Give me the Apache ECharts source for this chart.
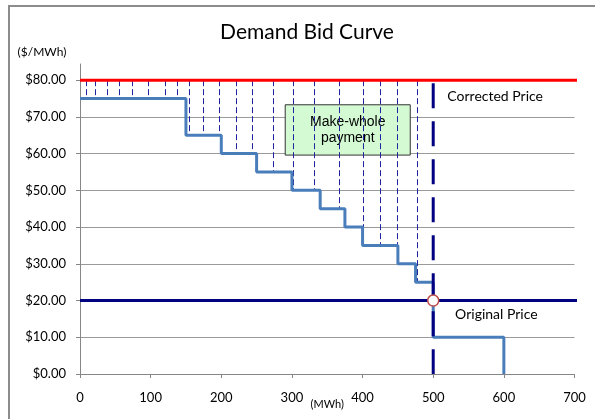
<!DOCTYPE html>
<html>
<head>
<meta charset="utf-8">
<script src="https://cdn.jsdelivr.net/npm/echarts@6/dist/echarts.min.js"></script>
<style>
  html, body { margin: 0; padding: 0; background: #fff; }
  #chart { width: 595px; height: 419px; }
</style>
</head>
<body>
<div id="chart"></div>
<script>
// Demand bid curve: price steps between quantity breakpoints (MWh)
const stepQty   = [0, 150, 200, 250, 300, 340, 375, 400, 450, 475, 500, 600];
const stepPrice = [75, 65, 60, 55, 50, 45, 40, 35, 30, 25, 10];
// Individual bid quantities that receive a make-whole payment
const bidQty = [9, 21, 38, 56, 74, 97, 121, 138, 155, 174, 197, 221, 244, 273,
                302, 332, 367, 401, 425, 449, 478];
const correctedPrice = 80;
const originalPrice = 20;
const clearingQty = 500;
const priceLineEnd = 708;
const yTicks = [0, 10, 20, 30, 40, 50, 60, 70, 80];

const FONT = 'Lato, "Liberation Sans", sans-serif';

// Step curve points
const curvePoints = [];
for (let i = 0; i < stepPrice.length; i++) {
  curvePoints.push([stepQty[i], stepPrice[i]]);
  curvePoints.push([stepQty[i + 1], stepPrice[i]]);
}
curvePoints.push([stepQty[stepQty.length - 1], 0]);

function priceAt(q) {
  for (let i = 0; i < stepPrice.length; i++) {
    if (q >= stepQty[i] && q < stepQty[i + 1]) return stepPrice[i];
  }
  return 0;
}

const chart = echarts.init(document.getElementById('chart'), null, { renderer: 'canvas' });

chart.setOption({
  animation: false,
  backgroundColor: '#fff',
  textStyle: { fontFamily: FONT },
  grid: { left: 80, right: 20.5, top: 64, bottom: 45, containLabel: false, outerBoundsMode: 'none' },
  graphic: [
    { type: 'rect', shape: { x: 9, y: 6, width: 700, height: 600 },
      style: { fill: 'none', stroke: '#8c8c8c', lineWidth: 2 }, silent: true },
    { type: 'text', x: 307, y: 32,
      style: { text: 'Demand Bid Curve', fontSize: 21, fontFamily: FONT, fill: '#000',
               align: 'center', verticalAlign: 'middle' } },
    { type: 'text', x: 42, y: 52,
      style: { text: '($/MWh)', fontSize: 12, fontFamily: FONT, fill: '#000',
               align: 'center', verticalAlign: 'middle' } }
  ],
  xAxis: {
    type: 'value', min: 0, max: 700, interval: 100,
    name: '(MWh)', nameLocation: 'middle', nameGap: 25, nameMoveOverlap: false,
    nameTextStyle: { fontSize: 11, color: '#000', fontFamily: FONT },
    axisLine: { show: true, lineStyle: { color: '#868686', width: 1 } },
    axisTick: { show: true, length: 4, lineStyle: { color: '#868686' } },
    axisLabel: { fontSize: 13, color: '#000', margin: 17, fontFamily: FONT },
    splitLine: { show: false }
  },
  yAxis: {
    type: 'value', min: 0, max: 84.4, interval: 10,
    axisLine: { show: true, lineStyle: { color: '#868686', width: 1 } },
    axisTick: { show: true, length: 4, customValues: yTicks, lineStyle: { color: '#868686' } },
    axisLabel: { customValues: yTicks, fontSize: 13, color: '#000', margin: 14, fontFamily: FONT,
                 formatter: v => '$' + v.toFixed(2) },
    splitLine: { show: true, showMaxLine: false, lineStyle: { color: '#9a9a9a', width: 1 } }
  },
  series: [
    {
      // make-whole gap for each bid: corrected price down to bid price
      type: 'lines', coordinateSystem: 'cartesian2d', z: 2, silent: true,
      data: bidQty.map(q => ({ coords: [[q, correctedPrice], [q, priceAt(q)]] })),
      lineStyle: { color: '#1f239c', width: 1, type: [6, 3], opacity: 1 }
    },
    {
      type: 'line', z: 3, symbol: 'none', silent: true,
      data: curvePoints,
      lineStyle: { color: '#4A7EBB', width: 3 }
    },
    {
      type: 'line', z: 4, symbol: 'none', silent: true,
      data: [[clearingQty, correctedPrice], [clearingQty, 0]],
      lineStyle: { color: '#000080', width: 3, type: [25, 13], dashOffset: 35 }
    },
    {
      type: 'line', z: 5, symbol: 'none', silent: true, clip: false,
      data: [[0, originalPrice], [priceLineEnd, originalPrice]],
      lineStyle: { color: '#000080', width: 3 }
    },
    {
      type: 'line', z: 6, symbol: 'none', silent: true, clip: false,
      data: [[0, correctedPrice], [priceLineEnd, correctedPrice]],
      lineStyle: { color: '#FF0000', width: 3 }
    },
    {
      type: 'scatter', z: 7, silent: true,
      data: [[clearingQty, originalPrice]],
      symbol: 'circle', symbolSize: 11,
      itemStyle: { color: '#fff', borderColor: '#C0504D', borderWidth: 1.5, opacity: 1 }
    },
    {
      type: 'scatter', z: 10, silent: true, symbolSize: 0,
      itemStyle: { opacity: 1 },
      data: [
        { name: 'Corrected Price', value: [520, 75.6] },
        { name: 'Original Price', value: [531, 16.3] }
      ],
      label: { show: true, position: 'right', distance: 0, formatter: p => p.name,
               fontSize: 14, color: '#000', opacity: 1, fontFamily: FONT },
      markArea: {
        silent: true,
        itemStyle: { color: '#D4FAD4', borderColor: '#333', borderWidth: 1, opacity: 1 },
        label: { show: true, position: 'inside', align: 'center', verticalAlign: 'middle',
                 formatter: 'Make-whole\npayment',
                 fontFamily: '"Liberation Sans", Arial, sans-serif', fontSize: 14,
                 lineHeight: 16, color: '#000' },
        data: [[{ coord: [290.5, 73.3] }, { coord: [467.5, 59.6] }]]
      }
    }
  ]
});
</script>
</body>
</html>
